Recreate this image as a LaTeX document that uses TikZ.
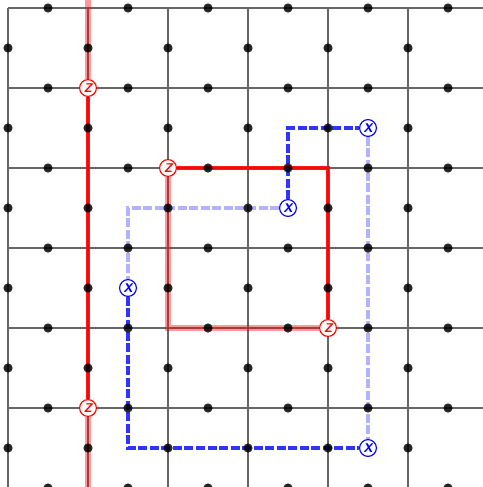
\documentclass[tikz,border=0pt]{standalone}
\usepackage{tikz}
\usetikzlibrary{positioning}

\begin{document}
\begin{tikzpicture}[
  x=1cm, y=1cm,
  gridline/.style={draw=black!60, line width=0.4pt},
  qubit/.style={circle, fill=black, fill opacity=0.85, inner sep=0pt,
                minimum size=0.115cm},
  zstring/.style={draw=red, line width=1.5pt, draw opacity=0.9},
  zghost/.style={draw=red, line width=1.8pt, draw opacity=0.4},
  xstring/.style={draw=blue, line width=1.7pt, draw opacity=0.8,
                  dash pattern=on 3.2pt off 0.9pt},
  xghost/.style={draw=blue, line width=1.7pt, draw opacity=0.3,
                 dash pattern=on 3.2pt off 0.9pt},
  zend/.style={circle, draw=red, fill=white, line width=0.4pt,
               minimum size=0.21cm, inner sep=0pt, text=red,
               font=\fontsize{4.5}{4.5}\selectfont\sffamily\bfseries\itshape},
  xend/.style={zend, draw=blue, text=blue}
]

\useasboundingbox (-0.1,0.1) rectangle (5.9375,-5.9875);

% Lattice
\foreach \k in {0,...,6} {
  \draw[gridline] (\k,0) -- (\k,-6.2);
  \draw[gridline] (0,-\k) -- (6.2,-\k);
}

% Z ends (vertices)
\node[zend] (z1) at (1,-1) {Z};
\node[zend] (z2) at (1,-5) {Z};
\node[zend] (z3) at (2,-2) {Z};
\node[zend] (z4) at (4,-4) {Z};

% X ends (plaquettes)
\node[xend] (x1) at (3.5,-2.5) {X};
\node[xend] (x2) at (4.5,-1.5) {X};
\node[xend] (x3) at (1.5,-3.5) {X};
\node[xend] (x4) at (4.5,-5.5) {X};

\coordinate (ztop) at (1,0.15);
\coordinate (zbot) at (1,-6.1);

% Z strings
\draw[zghost] (ztop) -- (z1);
\draw[zstring] (z1) -- (z2);
\draw[zghost] (z2) -- (zbot);
\draw[zstring] (z3) -| (z4);
\draw[zghost] (z4) -| (z3);

% X strings
\draw[xstring] (x1) |- (x2);
\draw[xstring] (x3) |- (x4);
\draw[xghost] (x2) -- (x4);
\draw[xghost] (x1) -| (x3);

% Qubits on edges
\foreach \i in {0,...,5}
  \foreach \j in {0,...,6}
    \node[qubit] (h\i\j) at (\i+0.5,-\j) {};
\foreach \i in {0,...,6}
  \foreach \j in {0,...,5}
    \node[qubit] (v\i\j) at (\i,-\j-0.5) {};

\end{tikzpicture}
\end{document}
